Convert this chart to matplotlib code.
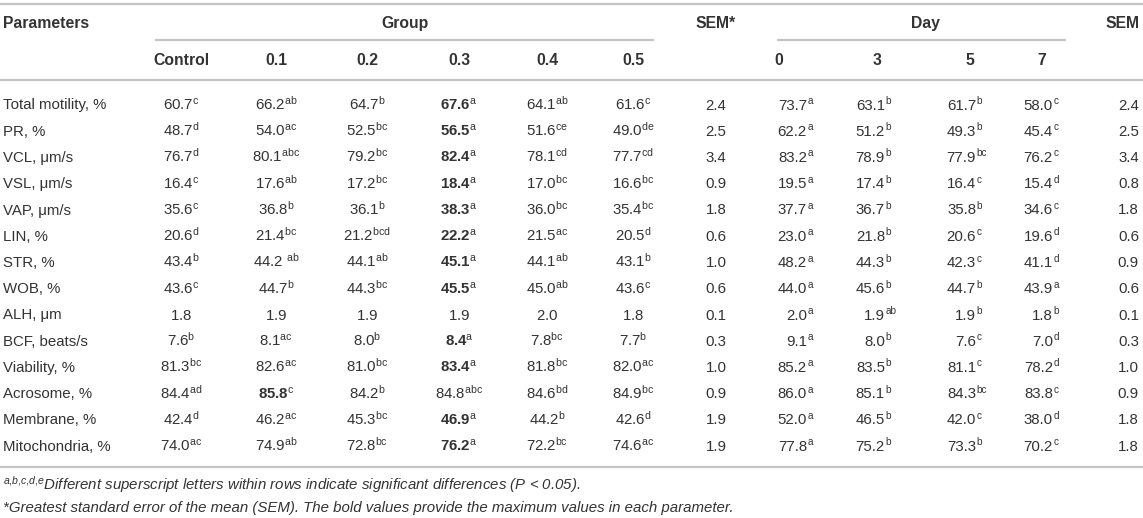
import matplotlib
matplotlib.use("Agg")
import matplotlib.pyplot as plt

plt.rcParams['font.family'] = ['Liberation Sans', 'DejaVu Sans']
plt.rcParams['mathtext.fontset'] = 'custom'
plt.rcParams['mathtext.rm'] = 'Liberation Sans'
plt.rcParams['mathtext.bf'] = 'Liberation Sans:bold'
plt.rcParams['mathtext.it'] = 'Liberation Sans:italic'
plt.rcParams['mathtext.sf'] = 'Liberation Sans'

parameters = ["Total motility, %", "PR, %", "VCL, μm/s", "VSL, μm/s", "VAP, μm/s", "LIN, %",
              "STR, %", "WOB, %", "ALH, μm", "BCF, beats/s", "Viability, %", "Acrosome, %",
              "Membrane, %", "Mitochondria, %"]
group_labels = ["Control", "0.1", "0.2", "0.3", "0.4", "0.5"]
day_labels = ["0", "3", "5", "7"]

group_values = [
    [60.7, 66.2, 64.7, 67.6, 64.1, 61.6],
    [48.7, 54.0, 52.5, 56.5, 51.6, 49.0],
    [76.7, 80.1, 79.2, 82.4, 78.1, 77.7],
    [16.4, 17.6, 17.2, 18.4, 17.0, 16.6],
    [35.6, 36.8, 36.1, 38.3, 36.0, 35.4],
    [20.6, 21.4, 21.2, 22.2, 21.5, 20.5],
    [43.4, 44.2, 44.1, 45.1, 44.1, 43.1],
    [43.6, 44.7, 44.3, 45.5, 45.0, 43.6],
    [1.8, 1.9, 1.9, 1.9, 2.0, 1.8],
    [7.6, 8.1, 8.0, 8.4, 7.8, 7.7],
    [81.3, 82.6, 81.0, 83.4, 81.8, 82.0],
    [84.4, 85.8, 84.2, 84.8, 84.6, 84.9],
    [42.4, 46.2, 45.3, 46.9, 44.2, 42.6],
    [74.0, 74.9, 72.8, 76.2, 72.2, 74.6],
]
group_letters = [
    ["c", "ab", "b", "a", "ab", "c"],
    ["d", "ac", "bc", "a", "ce", "de"],
    ["d", "abc", "bc", "a", "cd", "cd"],
    ["c", "ab", "bc", "a", "bc", "bc"],
    ["c", "b", "b", "a", "bc", "bc"],
    ["d", "bc", "bcd", "a", "ac", "d"],
    ["b", " ab", "ab", "a", "ab", "b"],
    ["c", "b", "bc", "a", "ab", "c"],
    ["", "", "", "", "", ""],
    ["b", "ac", "b", "a", "bc", "b"],
    ["bc", "ac", "bc", "a", "bc", "ac"],
    ["ad", "c", "b", "abc", "bd", "bc"],
    ["d", "ac", "bc", "a", "b", "d"],
    ["ac", "ab", "bc", "a", "bc", "ac"],
]
group_bold = [3, 3, 3, 3, 3, 3, 3, 3, None, 3, 3, 1, 3, 3]
group_sem = [2.4, 2.5, 3.4, 0.9, 1.8, 0.6, 1.0, 0.6, 0.1, 0.3, 1.0, 0.9, 1.9, 1.9]

day_values = [
    [73.7, 63.1, 61.7, 58.0],
    [62.2, 51.2, 49.3, 45.4],
    [83.2, 78.9, 77.9, 76.2],
    [19.5, 17.4, 16.4, 15.4],
    [37.7, 36.7, 35.8, 34.6],
    [23.0, 21.8, 20.6, 19.6],
    [48.2, 44.3, 42.3, 41.1],
    [44.0, 45.6, 44.7, 43.9],
    [2.0, 1.9, 1.9, 1.8],
    [9.1, 8.0, 7.6, 7.0],
    [85.2, 83.5, 81.1, 78.2],
    [86.0, 85.1, 84.3, 83.8],
    [52.0, 46.5, 42.0, 38.0],
    [77.8, 75.2, 73.3, 70.2],
]
day_letters = [
    ["a", "b", "b", "c"],
    ["a", "b", "b", "c"],
    ["a", "b", "bc", "c"],
    ["a", "b", "c", "d"],
    ["a", "b", "b", "c"],
    ["a", "b", "c", "d"],
    ["a", "b", "c", "d"],
    ["a", "b", "b", "a"],
    ["a", "ab", "b", "b"],
    ["a", "b", "c", "d"],
    ["a", "b", "c", "d"],
    ["a", "b", "bc", "c"],
    ["a", "b", "c", "d"],
    ["a", "b", "b", "c"],
]
day_sem = [2.4, 2.5, 3.4, 0.8, 1.8, 0.6, 0.9, 0.6, 0.1, 0.3, 1.0, 0.9, 1.8, 1.8]

footnote1 = r"$^{\mathit{a{,}b{,}c{,}d{,}e}}$Different superscript letters within rows indicate significant differences (P < 0.05)."
footnote2 = "*Greatest standard error of the mean (SEM). The bold values provide the maximum values in each parameter."

# ---------------- layout ----------------
W, H = 1143, 518
TXT = '#333333'
LINE = '#c4c4c4'
FS = 10.85
FSB = 11.3
SUP = 7.2
FSN = 10.8

fig = plt.figure(figsize=(W / 100, H / 100), dpi=100)
ax = fig.add_axes([0, 0, 1, 1])
ax.set_xlim(0, W)
ax.set_ylim(H, 0)
ax.axis('off')

group_x = [181, 276, 367, 459, 547, 633]
sem1_x = 716
day_x = [807, 885, 976, 1053]        # right edge of number
day_head_x = [779, 877, 970, 1042]
sem2_x = 1139

row0, dy = 109.5, 26.25

def hline(y, x0, x1):
    ax.plot([x0, x1], [y, y], color=LINE, lw=1.6, solid_capstyle='butt')

hline(3.5, 0, W)
hline(40, 155, 654)
hline(40, 777, 1066)
hline(80, 0, W)
hline(467, 0, W)

# headers
hb = 28
ax.text(3, hb, "Parameters", fontsize=FSB, fontweight='bold', color=TXT, va='baseline', ha='left')
ax.text(405, hb, "Group", fontsize=FSB, fontweight='bold', color=TXT, va='baseline', ha='center')
ax.text(sem1_x, hb, "SEM*", fontsize=FSB, fontweight='bold', color=TXT, va='baseline', ha='center')
ax.text(925, hb, "Day", fontsize=FSB, fontweight='bold', color=TXT, va='baseline', ha='center')
ax.text(sem2_x + 1, hb, "SEM", fontsize=FSB, fontweight='bold', color=TXT, va='baseline', ha='right')
hb2 = 65
for x, lab in zip(group_x, group_labels):
    ax.text(x, hb2, lab, fontsize=FSB, fontweight='bold', color=TXT, va='baseline', ha='center')
for x, lab in zip(day_head_x, day_labels):
    ax.text(x, hb2, lab, fontsize=FSB, fontweight='bold', color=TXT, va='baseline', ha='center')

# body
for i, p in enumerate(parameters):
    yb = row0 + i * dy
    ax.text(3, yb, p, fontsize=FS, color=TXT, va='baseline', ha='left')
    for j, x in enumerate(group_x):
        v = group_values[i][j]
        let = group_letters[i][j]
        num = f"{v:.1f}"
        font = r"\mathbf" if group_bold[i] == j else r"\mathrm"
        sp = ""
        if let.startswith(" "):
            sp = r"\ "
            let = let.strip()
        if let:
            s = "$" + font + "{" + num + sp + "}^{\\mathrm{" + let + "}}$"
        else:
            s = "$" + font + "{" + num + "}$"
        ax.text(x, yb, s, fontsize=FS, color=TXT, va='baseline', ha='center')
    ax.text(sem1_x, yb, f"{group_sem[i]:.1f}", fontsize=FS, color=TXT, va='baseline', ha='center')
    for j, x in enumerate(day_x):
        ax.text(x, yb, f"{day_values[i][j]:.1f}", fontsize=FS, color=TXT, va='baseline', ha='right')
        ax.text(x + 0.5, yb - 5.5, day_letters[i][j], fontsize=SUP, color=TXT, va='baseline', ha='left')
    ax.text(sem2_x, yb, f"{day_sem[i]:.1f}", fontsize=FS, color=TXT, va='baseline', ha='right')

ax.text(3, 490, footnote1, fontsize=FSN, style='italic', color=TXT, va='baseline', ha='left')
ax.text(3, 512, footnote2, fontsize=FSN, style='italic', color=TXT, va='baseline', ha='left')

fig.savefig("out.png", dpi=100)
